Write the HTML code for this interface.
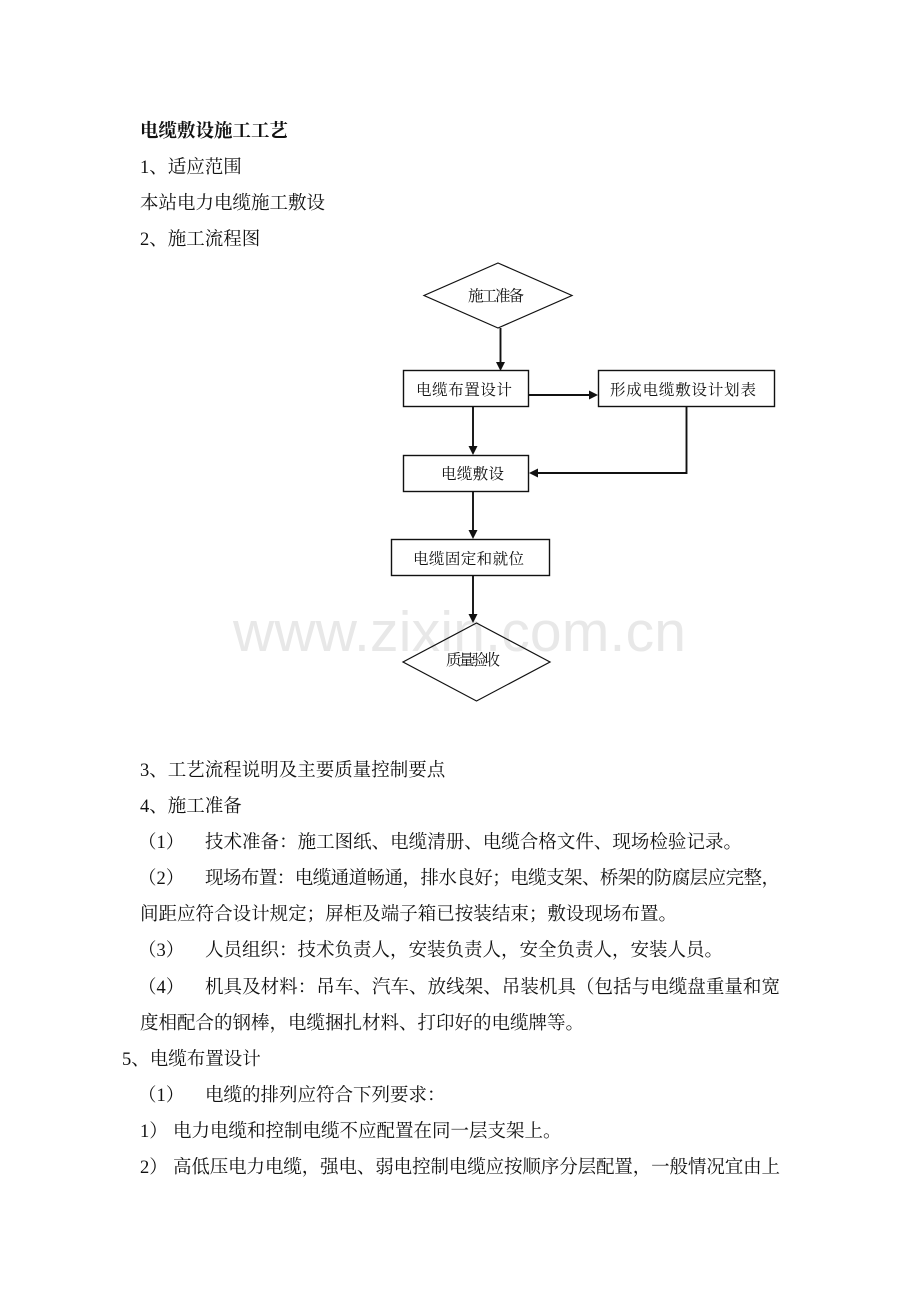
<!DOCTYPE html>
<html lang="zh">
<head>
<meta charset="utf-8">
<style>
html,body{margin:0;padding:0;background:#fff;width:920px;height:1302px;overflow:hidden}
svg{display:block}
text{font-family:"Liberation Serif","Noto Serif CJK SC",serif;fill:#111}
.t{font-size:18.5px}
.b{font-size:18.5px;font-weight:700}
.s{font-size:15.5px}
.w{font-family:"Liberation Sans",sans-serif;font-size:57px;fill:#e8e8e8}
.l{stroke:#111;stroke-width:1.9;fill:none}
.n{stroke:#111;stroke-width:1.4;fill:#fff}
.d{stroke:#111;stroke-width:1.2;fill:#fff}
.a{fill:#111}
</style>
</head>
<body>
<svg width="920" height="1302" viewBox="0 0 920 1302" xmlns="http://www.w3.org/2000/svg">
<rect width="920" height="1302" fill="#fff"/>

<text class="b" x="140" y="137" textLength="148">电缆敷设施工工艺</text>
<text class="t" x="140" y="173">1、适应范围</text>
<text class="t" x="140" y="209" textLength="185">本站电力电缆施工敷设</text>
<text class="t" x="140" y="245">2、施工流程图</text>

<polygon class="d" points="498,263 572,295.5 498,328 424,295.5"/>
<rect class="n" x="403.5" y="370.5" width="125" height="36"/>
<rect class="n" x="598.5" y="370.5" width="176" height="36"/>
<rect class="n" x="403.5" y="455.5" width="125" height="36"/>
<rect class="n" x="391.5" y="539.5" width="158" height="36"/>

<path class="l" d="M500.5 328V363"/>
<polygon class="a" points="496,362 505,362 500.5,371"/>
<path class="l" d="M529 395H590"/>
<polygon class="a" points="589,390.5 598,395 589,399.5"/>
<path class="l" d="M473 407V447"/>
<polygon class="a" points="468.5,446 477.5,446 473,455"/>
<path class="l" d="M686.5 407V473H537"/>
<polygon class="a" points="538,468.5 529,473 538,477.5"/>
<path class="l" d="M473 491V531"/>
<polygon class="a" points="468.5,530 477.5,530 473,539"/>

<text class="w" x="233" y="651" textLength="453">www.zixin.com.cn</text>

<path class="l" d="M473 575V615"/>
<polygon class="a" points="468.5,614 477.5,614 473,623"/>
<polygon class="d" style="fill:none" points="476.5,623 550,662 476.5,701 403,662"/>

<text class="s" x="468" y="301" textLength="56" lengthAdjust="spacing">施工准备</text>
<text class="s" x="416" y="395" textLength="96">电缆布置设计</text>
<text class="s" x="610" y="395" textLength="146">形成电缆敷设计划表</text>
<text class="s" x="441" y="479" textLength="63">电缆敷设</text>
<text class="s" x="413" y="564" textLength="111">电缆固定和就位</text>
<text class="s" x="446" y="665" textLength="54">质量验收</text>

<text class="t" x="140" y="776">3、工艺流程说明及主要质量控制要点</text>
<text class="t" x="140" y="812">4、施工准备</text>

<text class="t" x="138" y="848">（1）</text>
<text class="t" x="205" y="848" textLength="537">技术准备：施工图纸、电缆清册、电缆合格文件、现场检验记录。</text>
<text class="t" x="138" y="884">（2）</text>
<text class="t" x="205" y="884" textLength="575">现场布置：电缆通道畅通，排水良好；电缆支架、桥架的防腐层应完整，</text>
<text class="t" x="140" y="920" textLength="537">间距应符合设计规定；屏柜及端子箱已按装结束；敷设现场布置。</text>
<text class="t" x="138" y="956">（3）</text>
<text class="t" x="205" y="956" textLength="518">人员组织：技术负责人，安装负责人，安全负责人，安装人员。</text>
<text class="t" x="138" y="993">（4）</text>
<text class="t" x="205" y="993" textLength="575">机具及材料：吊车、汽车、放线架、吊装机具（包括与电缆盘重量和宽</text>
<text class="t" x="140" y="1029" textLength="444">度相配合的钢棒，电缆捆扎材料、打印好的电缆牌等。</text>
<text class="t" x="122" y="1065">5、电缆布置设计</text>
<text class="t" x="138" y="1101">（1）</text>
<text class="t" x="205" y="1101">电缆的排列应符合下列要求：</text>
<text class="t" x="140" y="1137">1）</text>
<text class="t" x="173" y="1137">电力电缆和控制电缆不应配置在同一层支架上。</text>
<text class="t" x="140" y="1173">2）</text>
<text class="t" x="173" y="1173" textLength="607">高低压电力电缆，强电、弱电控制电缆应按顺序分层配置，一般情况宜由上</text>
</svg>
</body>
</html>
